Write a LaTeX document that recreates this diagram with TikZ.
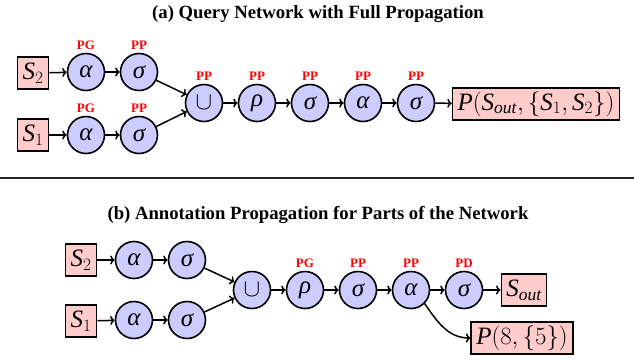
\documentclass[tikz,border=0pt]{standalone}
\usepackage{fontspec}
\setmainfont{Liberation Serif}
\usetikzlibrary{positioning,arrows.meta}
\definecolor{opblue}{RGB}{204,204,255}
\definecolor{srcpink}{RGB}{255,204,204}
\newcommand{\gr}[1]{{\itshape #1}}
\newcommand{\src}[2]{$\mathit{#1}_{#2}$}

\begin{document}
\begin{tikzpicture}[x=1pt, y=1pt, >={Computer Modern Rightarrow[length=4.5pt,width=9pt]}]
% styles of nodes
\tikzset{op/.style={circle,draw=black,fill=opblue,line width=1.6pt,minimum size=37pt,inner sep=0pt,font=\fontsize{25}{27}\selectfont},
         srcbox/.style={rectangle,draw=black,fill=srcpink,line width=1.6pt,minimum height=32pt,inner xsep=5pt,inner ysep=2pt,font=\fontsize{25}{27}\selectfont},
         tag/.style={text=red,font=\bfseries\fontsize{13}{14}\selectfont,inner sep=0pt},
         heading/.style={font=\bfseries\fontsize{18.7}{20}\selectfont,inner sep=0pt},
         flow/.style={->,line width=1.5pt}}
\useasboundingbox (0,0) rectangle (634,-360);

%(a) full propagation
\node[heading] (ta) at (318,-14) {(a) Query Network with Full Propagation};
% sources
\node[srcbox] (s2a) at (33,-73) {\src{S}{2}};
\node[srcbox] (s1a) at (33,-135) {\src{S}{1}};
% upper branch
\node[op] (a2a) at (86,-72) {\gr{α}};
\node[op] (g2a) at (139,-72) {\gr{σ}};
% lower branch
\node[op] (a1a) at (86,-135) {\gr{α}};
\node[op] (g1a) at (139,-135) {\gr{σ}};
% main chain
\node[op] (ua) at (204,-103) {$\cup$};
\node[op] (ra) at (257,-103) {\gr{ρ}};
\node[op] (g3a) at (310,-103) {\gr{σ}};
\node[op] (a3a) at (363,-103) {\gr{α}};
\node[op] (g4a) at (416,-103) {\gr{σ}};
\node[srcbox] (pa) at (536,-104) {$\mathit{P}(\mathit{S}_{\mathit{out}},\{\mathit{S}_1,\mathit{S}_2\})$};
% tags
\node[tag, above=3pt of a2a] (ta2a) {PG};
\node[tag, above=3pt of g2a] (tg2a) {PP};
\node[tag, above=3pt of a1a] (ta1a) {PG};
\node[tag, above=3pt of g1a] (tg1a) {PP};
\node[tag, above=3pt of ua] (tua) {PP};
\node[tag, above=3pt of ra] (tra) {PP};
\node[tag, above=3pt of g3a] (tg3a) {PP};
\node[tag, above=3pt of a3a] (ta3a) {PP};
\node[tag, above=3pt of g4a] (tg4a) {PP};
% edges
\draw[flow] (s2a) -- (a2a);
\draw[flow] (a2a) -- (g2a);
\draw[flow] (s1a) -- (a1a);
\draw[flow] (a1a) -- (g1a);
\draw[flow] (g2a) -- (ua);
\draw[flow] (g1a) -- (ua);
\draw[flow] (ua) -- (ra);
\draw[flow] (ra) -- (g3a);
\draw[flow] (g3a) -- (a3a);
\draw[flow] (a3a) -- (g4a);
\draw[flow] (g4a) -- (pa);

% rule
\draw[line width=1.5pt, black!85] (0,-178) -- (634,-178);

%(b) partial propagation
\node[heading] (tb) at (318,-215) {(b) Annotation Propagation for Parts of the Network};
% sources
\node[srcbox] (s2b) at (81,-260) {\src{S}{2}};
\node[srcbox] (s1b) at (81,-321) {\src{S}{1}};
% upper branch
\node[op] (a2b) at (134,-260) {\gr{α}};
\node[op] (g2b) at (187,-260) {\gr{σ}};
% lower branch
\node[op] (a1b) at (134,-320) {\gr{α}};
\node[op] (g1b) at (187,-320) {\gr{σ}};
% main chain
\node[op] (ub) at (252,-290) {$\cup$};
\node[op] (rb) at (305,-290) {\gr{ρ}};
\node[op] (g3b) at (358,-290) {\gr{σ}};
\node[op] (a3b) at (411,-290) {\gr{α}};
\node[op] (g4b) at (464,-290) {\gr{σ}};
\node[srcbox] (sob) at (524,-290) {\src{S}{\mathit{out}}};
\node[srcbox] (pb) at (522,-338) {$\mathit{P}(8,\{5\})$};
% tags
\node[tag, above=3pt of rb] (trb) {PG};
\node[tag, above=3pt of g3b] (tg3b) {PP};
\node[tag, above=3pt of a3b] (ta3b) {PP};
\node[tag, above=3pt of g4b] (tg4b) {PD};
% edges
\draw[flow] (s2b) -- (a2b);
\draw[flow] (a2b) -- (g2b);
\draw[flow] (s1b) -- (a1b);
\draw[flow] (a1b) -- (g1b);
\draw[flow] (g2b) -- (ub);
\draw[flow] (g1b) -- (ub);
\draw[flow] (ub) -- (rb);
\draw[flow] (rb) -- (g3b);
\draw[flow] (g3b) -- (a3b);
\draw[flow] (a3b) -- (g4b);
\draw[flow] (g4b) -- (sob);
\draw[flow] (a3b.-45) to[out=-55, in=180] (pb.west);
\end{tikzpicture}
\end{document}
